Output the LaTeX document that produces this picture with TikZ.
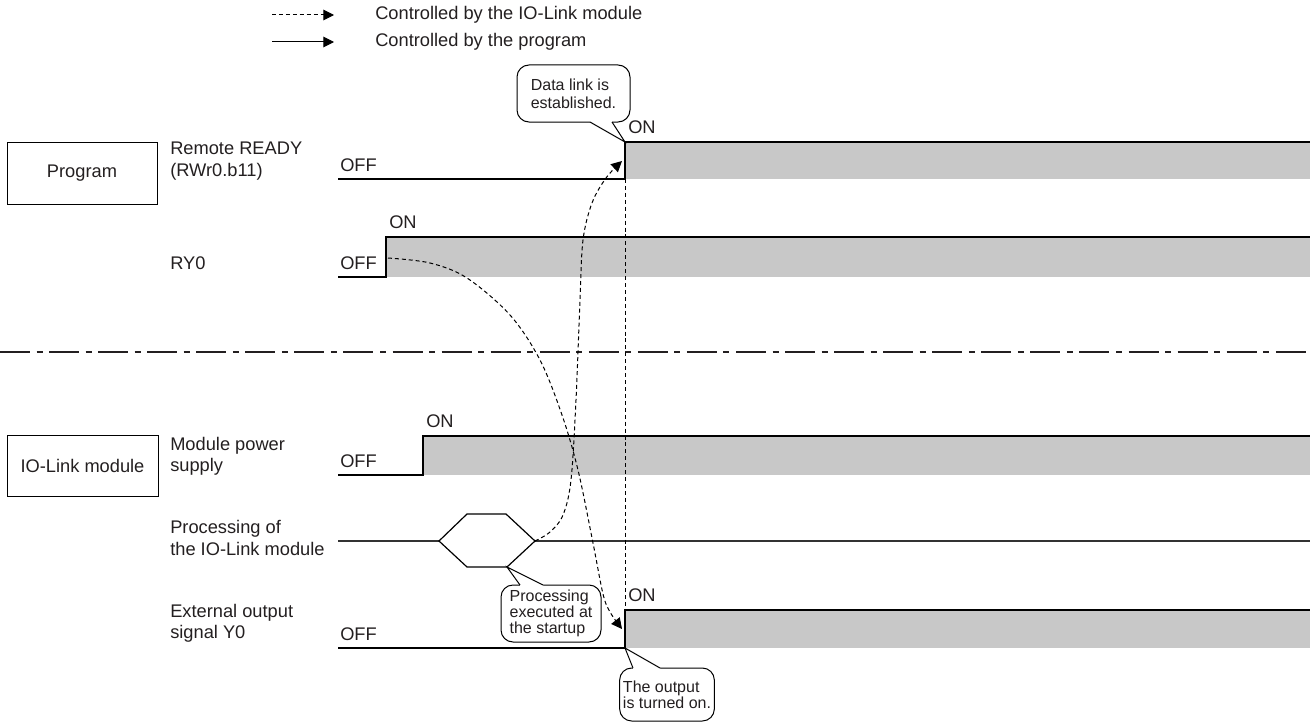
\documentclass[tikz,border=0pt]{standalone}
\usepackage{fontspec}
\setmainfont{Liberation Sans}
\usetikzlibrary{arrows.meta}
\definecolor{txt}{HTML}{231F20}
\definecolor{sig}{HTML}{C8C8C8}
\begin{document}
\begin{tikzpicture}[x=0.75pt,y=-0.75pt,
  lbl/.style={font=\fontsize{13.7}{16}\selectfont, text=txt, inner sep=0pt, align=left},
  sigline/.style={line width=0.9pt, draw=black},
  dsh/.style={line width=0.75pt, dash pattern=on 3pt off 2.2pt},
  tipA/.style={-{Triangle[length=8pt,width=8pt]}},
  callout/.style={draw, line width=0.75pt, rounded corners=9pt, fill=white,
    font=\fontsize{12}{12}\selectfont, text=txt, align=left, inner sep=0pt},
  groupbox/.style={draw, line width=0.75pt, font=\fontsize{13.7}{16}\selectfont, text=txt, inner sep=0pt},
  sep/.style={line width=1.9pt, draw=txt, dash pattern=on 22.5pt off 4.9pt on 4.5pt off 4.9pt}
]
\useasboundingbox (0,0) rectangle (1313,724);

% legend
\coordinate (lgAs) at (272,15); \coordinate (lgAe) at (334,15);
\coordinate (lgBs) at (272,42); \coordinate (lgBe) at (334,42);
\draw[dsh,tipA] (lgAs) -- (lgAe);
\draw[line width=0.75pt,tipA] (lgBs) -- (lgBe);
\node[lbl,anchor=west] (lgAt) at (375,15) {Controlled by the IO-Link module};
\node[lbl,anchor=west] (lgBt) at (375,42) {Controlled by the program};

% group boxes
\node[groupbox, minimum width=112.5pt, minimum height=46.5pt] (prog) at (82,173) {Program};
\node[groupbox, minimum width=113.25pt, minimum height=45.75pt] (iol) at (82.5,465.5) {IO-Link module};

% signal labels
\node[lbl,anchor=west] (lRR) at (170,161) {Remote READY\\(RWr0.b11)};
\node[lbl,anchor=west] (lRY) at (170,263) {RY0};
\node[lbl,anchor=west] (lMP) at (170,456) {Module power\\supply};
\node[lbl,anchor=west] (lPR) at (170,538) {Processing of\\the IO-Link module};
\node[lbl,anchor=west] (lEX) at (170,623) {External output\\signal Y0};

% Remote READY
\fill[sig] (625,142) rectangle (1310,179);
\draw[sigline] (338,179) -- (625,179) -- (625,142) -- (1310,142);
\node[lbl,anchor=base west] (offRR) at (340,171) {OFF};
\node[lbl,anchor=base west] (onRR) at (628,133) {ON};

% RY0
\fill[sig] (386,237) rectangle (1310,277);
\draw[sigline] (338,277) -- (386,277) -- (386,237) -- (1310,237);
\node[lbl,anchor=base west] (offRY) at (340,269) {OFF};
\node[lbl,anchor=base west] (onRY) at (389,228) {ON};

% separator
\draw[sep] (0,352) -- (1310,352);

% Module power supply
\fill[sig] (423,436) rectangle (1310,475);
\draw[sigline] (338,475) -- (423,475) -- (423,436) -- (1310,436);
\node[lbl,anchor=base west] (offMP) at (340,467) {OFF};
\node[lbl,anchor=base west] (onMP) at (426,427) {ON};

% Processing
\coordinate (hexL) at (439,541);
\coordinate (hexTL) at (467,514);
\coordinate (hexTR) at (506,514);
\coordinate (hexR) at (535,541);
\coordinate (hexBR) at (507,567);
\coordinate (hexBL) at (467,567);
\draw[line width=0.9pt, draw=black!80] (338,541) -- (hexL);
\draw[line width=0.9pt, draw=black!80] (hexR) -- (1310,541);
\draw[line width=0.9pt] (hexL) -- (hexTL) -- (hexTR) -- (hexR) -- (hexBR) -- (hexBL) -- cycle;

% External output
\fill[sig] (625,610) rectangle (1310,648);
\draw[sigline] (338,648) -- (625,648) -- (625,610) -- (1310,610);
\node[lbl,anchor=base west] (offEX) at (340,640) {OFF};
\node[lbl,anchor=base west] (onEX) at (628,601) {ON};

% dashed connectors
\coordinate (rrLow) at (625,179);
\coordinate (exHigh) at (625,610);
\draw[dsh] (rrLow) -- (exHigh);
\coordinate (rrTip) at (622,161);
\coordinate (ryStart) at (388,258);
\coordinate (exTip) at (622,629);
\draw[dsh,tipA] plot[smooth,tension=0.55] coordinates {(hexR) (550,532) (563,515) (571,480) (576,400) (580,300) (583,240) (592,203) (606,178) (rrTip)};
\draw[dsh,tipA] plot[smooth,tension=0.55] coordinates {(ryStart) (430,263) (467,278) (510,315) (540,360) (562,415) (578,470) (593,543) (603,594) (610,612) (exTip)};

% callout 1
\node[callout, minimum width=84.75pt, minimum height=42.75pt, font=\fontsize{12}{13.5}\selectfont] (c1) at (573.5,93.5) {Data link is\\established.};
\coordinate (c1tip) at (625,142);
\fill[white] (590,120) -- (590,122) -- (c1tip) -- (612,122) -- (612,120) -- cycle;
\draw[line width=0.75pt] (590,122) -- (c1tip) -- (612,122);

% callout 2
\node[callout, minimum width=75pt, minimum height=42.75pt] (c2) at (551,613.5) {Processing\\executed at\\the startup};
\fill[white] (520,587) -- (520,585) -- (hexBR) -- (543,585) -- (543,587) -- cycle;
\draw[line width=0.75pt] (520,585) -- (hexBR) -- (543,585);

% callout 3
\node[callout, minimum width=71pt, minimum height=39.75pt] (c3) at (667,694.5) {The output\\is turned on.};
\coordinate (c3tip) at (625,648);
\fill[white] (633,670) -- (633,668) -- (c3tip) -- (660,668) -- (660,670) -- cycle;
\draw[line width=0.75pt] (633,668) -- (c3tip) -- (660,668);
\end{tikzpicture}
\end{document}
